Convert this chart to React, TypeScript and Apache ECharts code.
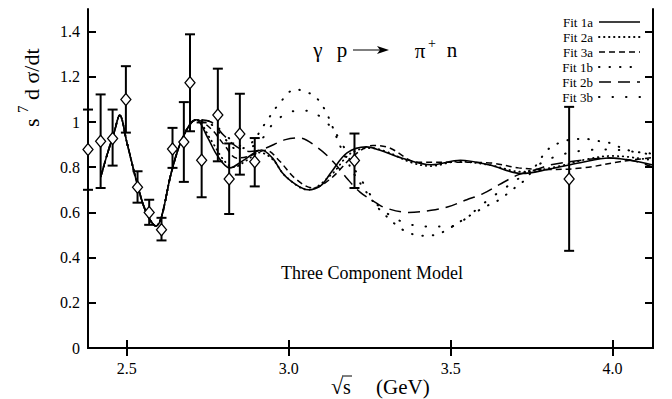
import React, { useEffect, useRef } from "react";
import * as echarts from "echarts";

// ---- data ----
const xTicks = [2.5, 3.0, 3.5, 4.0];
const yTicks = [0, 0.2, 0.4, 0.6, 0.8, 1.0, 1.2, 1.4];

const pointX = [2.38, 2.419, 2.456, 2.497, 2.533, 2.569, 2.607, 2.641, 2.676, 2.695, 2.731, 2.781, 2.816, 2.849, 2.895, 3.203, 3.866];
const pointY = [0.878, 0.915, 0.927, 1.10, 0.711, 0.600, 0.523, 0.881, 0.911, 1.174, 0.831, 1.031, 0.748, 0.947, 0.824, 0.830, 0.748];
const pointLo = [0.70, 0.708, 0.807, 0.953, 0.643, 0.545, 0.476, 0.797, 0.735, 0.959, 0.667, 0.826, 0.593, 0.767, 0.715, 0.708, 0.430];
const pointHi = [1.055, 1.122, 1.055, 1.247, 0.782, 0.656, 0.576, 0.974, 1.088, 1.388, 0.998, 1.236, 0.905, 1.125, 0.929, 0.949, 1.067];

const commonStart = [
  [2.42, 0.76], [2.44, 0.86], [2.46, 0.95], [2.478, 1.03], [2.50, 0.91], [2.535, 0.71],
  [2.56, 0.60], [2.59, 0.54], [2.607, 0.58], [2.638, 0.78], [2.674, 0.935], [2.715, 1.01],
];

const fit1a = [...commonStart,
  [2.75, 0.93], [2.78, 0.85], [2.818, 0.797], [2.86, 0.83], [2.916, 0.876], [2.95, 0.84], [2.98, 0.775],
  [3.01, 0.735], [3.06, 0.70], [3.10, 0.72], [3.13, 0.775], [3.18, 0.863], [3.24, 0.89], [3.28, 0.876],
  [3.35, 0.84], [3.44, 0.811], [3.53, 0.831], [3.62, 0.81], [3.72, 0.772], [3.80, 0.79], [3.90, 0.82],
  [3.99, 0.841], [4.06, 0.83], [4.125, 0.81]];
const fit2a = [...commonStart,
  [2.76, 0.92], [2.80, 0.83], [2.83, 0.80], [2.87, 0.83], [2.91, 0.865], [2.95, 0.835], [2.99, 0.76],
  [3.06, 0.70], [3.13, 0.765], [3.19, 0.86], [3.25, 0.885], [3.30, 0.87], [3.38, 0.82], [3.44, 0.805],
  [3.52, 0.825], [3.62, 0.81], [3.72, 0.78], [3.82, 0.80], [3.92, 0.835], [4.0, 0.85], [4.125, 0.83]];
const fit3a = [...commonStart,
  [2.76, 0.97], [2.80, 0.90], [2.84, 0.84], [2.88, 0.85], [2.93, 0.875], [2.97, 0.83], [3.02, 0.75],
  [3.075, 0.708], [3.13, 0.75], [3.20, 0.85], [3.26, 0.896], [3.31, 0.886], [3.40, 0.822], [3.51, 0.822],
  [3.62, 0.819], [3.71, 0.797], [3.80, 0.79], [3.91, 0.797], [4.03, 0.826], [4.125, 0.843]];
const fit1b = [...commonStart,
  [2.76, 0.99], [2.80, 0.93], [2.84, 0.88], [2.88, 0.90], [2.93, 1.0], [2.97, 1.08], [3.02, 1.144],
  [3.06, 1.13], [3.09, 1.10], [3.12, 1.03], [3.16, 0.89], [3.20, 0.775], [3.23, 0.71], [3.27, 0.63],
  [3.30, 0.585], [3.34, 0.535], [3.37, 0.51], [3.41, 0.497], [3.45, 0.50], [3.48, 0.516], [3.53, 0.56],
  [3.57, 0.595], [3.61, 0.627], [3.65, 0.656], [3.69, 0.70], [3.73, 0.745], [3.77, 0.82], [3.80, 0.878],
  [3.84, 0.91], [3.89, 0.925], [3.93, 0.924], [3.96, 0.915], [3.99, 0.908], [4.02, 0.89], [4.06, 0.871],
  [4.125, 0.86]];
const fit2b = [...commonStart,
  [2.76, 1.0], [2.80, 0.94], [2.84, 0.89], [2.88, 0.87], [2.92, 0.88], [2.99, 0.922], [3.03, 0.93],
  [3.09, 0.886], [3.14, 0.82], [3.18, 0.75], [3.22, 0.69], [3.27, 0.642], [3.30, 0.619], [3.37, 0.60],
  [3.44, 0.609], [3.49, 0.624], [3.55, 0.656], [3.60, 0.683], [3.65, 0.723], [3.71, 0.767], [3.77, 0.792],
  [3.81, 0.811], [3.92, 0.834], [3.99, 0.841], [4.07, 0.826], [4.125, 0.80]];
const fit3b = [...commonStart,
  [2.76, 1.0], [2.80, 0.95], [2.84, 0.90], [2.88, 0.89], [2.92, 0.93], [2.95, 0.99], [2.99, 1.035],
  [3.03, 1.05], [3.06, 1.05], [3.10, 1.02], [3.14, 0.96], [3.17, 0.89], [3.20, 0.80], [3.23, 0.73],
  [3.27, 0.64], [3.30, 0.60], [3.34, 0.565], [3.38, 0.545], [3.43, 0.538], [3.48, 0.538], [3.51, 0.540],
  [3.56, 0.59], [3.59, 0.625], [3.62, 0.66], [3.67, 0.71], [3.72, 0.76], [3.77, 0.81], [3.82, 0.845],
  [3.87, 0.865], [3.92, 0.875], [3.97, 0.878], [4.03, 0.875], [4.08, 0.865], [4.125, 0.855]];

const fitNames = ["Fit 1a", "Fit 2a", "Fit 3a", "Fit 1b", "Fit 2b", "Fit 3b"];
const fitData = [fit1a, fit2a, fit3a, fit1b, fit2b, fit3b];

// styles
const FONT = "'Liberation Serif', 'Times New Roman', serif";
const fitStyles: any[] = [
  { type: "solid", width: 1.6, cap: "butt" },
  { type: [0.5, 4.5], width: 1.8, cap: "round" },
  { type: [6, 4], width: 1.5, cap: "butt" },
  { type: [0.5, 10], width: 2, cap: "round" },
  { type: [12, 7], width: 1.5, cap: "butt" },
  { type: [0.5, 13], width: 2, cap: "round" },
];

export default function App() {
  const ref = useRef<HTMLDivElement>(null);
  useEffect(() => {
    if (!ref.current) return;
    const chart = echarts.init(ref.current, null, { renderer: "svg" });
    const xMin = 2.38, xMax = 4.125;
    const axisBase = {
      type: "value",
      axisLine: { show: true, lineStyle: { color: "#000", width: 2 } },
      splitLine: { show: false },
    };
    const errData = pointX.map((x, i) => [x, pointLo[i], pointHi[i]]);
    const ptData = pointX.map((x, i) => [x, pointY[i]]);

    const legendGraphics: any[] = [];
    fitNames.forEach((n, i) => {
      const y = 22 + i * 15;
      legendGraphics.push({
        type: "text", x: 593, y,
        style: { text: n, font: `13px ${FONT}`, lineHeight: 13, fill: "#000", align: "right", verticalAlign: "middle" },
      });
      const st = fitStyles[i];
      legendGraphics.push({
        type: "line", shape: { x1: 599, y1: y, x2: 640, y2: y },
        style: { stroke: "#000", lineWidth: st.width, lineDash: st.type === "solid" ? null : st.type, lineCap: st.cap },
      });
    });

    const option: any = {
      animation: false,
      backgroundColor: "#fff",
      grid: { left: 88, right: 19, top: 9, bottom: 51 },
      xAxis: [
        {
          ...axisBase, min: xMin, max: xMax, position: "bottom",
          axisTick: { show: true, inside: true, length: 8, customValues: xTicks, lineStyle: { color: "#000", width: 2 } },
          axisLabel: { show: true, customValues: xTicks, formatter: (v: number) => v.toFixed(1), color: "#000", fontFamily: FONT, fontSize: 16, margin: 12 },
        },
        {
          ...axisBase, min: xMin, max: xMax, position: "top",
          axisTick: { show: true, inside: true, length: 8, customValues: xTicks, lineStyle: { color: "#000", width: 2 } },
          axisLabel: { show: false },
        },
      ],
      yAxis: [
        {
          ...axisBase, min: 0, max: 1.5, position: "left",
          axisTick: { show: true, inside: true, length: 8, customValues: yTicks, lineStyle: { color: "#000", width: 2 } },
          axisLabel: { show: true, customValues: yTicks, formatter: (v: number) => String(Math.round(v * 10) / 10), color: "#000", fontFamily: FONT, fontSize: 16, margin: 8 },
        },
        {
          ...axisBase, min: 0, max: 1.5, position: "right",
          axisTick: { show: true, inside: true, length: 8, customValues: yTicks, lineStyle: { color: "#000", width: 2 } },
          axisLabel: { show: false },
        },
      ],
      series: [
        ...fitData.map((d, i) => ({
          type: "line", name: fitNames[i], data: d, showSymbol: false, symbol: "none",
          smooth: 0.35, clip: true, z: 2,
          lineStyle: { color: "#000", width: fitStyles[i].width, type: fitStyles[i].type, cap: fitStyles[i].cap },
        })),
        {
          type: "custom", name: "errors", data: errData, z: 3, clip: false,
          encode: { x: 0, y: [1, 2] },
          renderItem: (params: any, api: any) => {
            const x = api.value(0), lo = api.value(1), hi = api.value(2);
            const a = api.coord([x, lo]);
            const b = api.coord([x, hi]);
            const hw = 5;
            const st = { stroke: "#000", lineWidth: 2 };
            return {
              type: "group",
              children: [
                { type: "line", shape: { x1: a[0], y1: a[1], x2: b[0], y2: b[1] }, style: st },
                { type: "line", shape: { x1: a[0] - hw, y1: a[1], x2: a[0] + hw, y2: a[1] }, style: st },
                { type: "line", shape: { x1: b[0] - hw, y1: b[1], x2: b[0] + hw, y2: b[1] }, style: st },
              ],
            };
          },
        },
        {
          type: "scatter", name: "data", data: ptData, symbol: "diamond", symbolSize: [10, 12], z: 4, clip: false,
          itemStyle: { color: "#fff", borderColor: "#000", borderWidth: 1.3, opacity: 1 },
        },
      ],
      graphic: [
        // reaction title
        { type: "text", x: 318, y: 50, style: { text: "γ", font: `21px ${FONT}`, fill: "#000", align: "center", verticalAlign: "middle" } },
        { type: "text", x: 342, y: 50, style: { text: "p", font: `21px ${FONT}`, fill: "#000", align: "center", verticalAlign: "middle" } },
        { type: "line", shape: { x1: 353, y1: 50, x2: 386, y2: 50 }, style: { stroke: "#000", lineWidth: 1.2 } },
        { type: "polygon", shape: { points: [[389, 50], [377, 46], [380, 50], [377, 54]] }, style: { fill: "#000" } },
        { type: "text", x: 420, y: 51, style: { text: "π", font: `21px ${FONT}`, fill: "#000", align: "center", verticalAlign: "middle" } },
        { type: "text", x: 432, y: 43, style: { text: "+", font: `14px ${FONT}`, fill: "#000", align: "center", verticalAlign: "middle" } },
        { type: "text", x: 452, y: 50, style: { text: "n", font: `21px ${FONT}`, fill: "#000", align: "center", verticalAlign: "middle" } },
        // model label
        { type: "text", x: 372, y: 273, style: { text: "Three Component Model", font: `18px ${FONT}`, fill: "#000", align: "center", verticalAlign: "middle" } },
        // x axis title
        { type: "text", x: 337, y: 386, style: { text: "√", font: `22px ${FONT}`, lineHeight: 20, fill: "#000", align: "center", verticalAlign: "middle" } },
        { type: "line", shape: { x1: 342, y1: 376, x2: 352, y2: 376 }, style: { stroke: "#000", lineWidth: 1 } },
        { type: "text", x: 347, y: 387, style: { text: "s", font: `20px ${FONT}`, lineHeight: 18, fill: "#000", align: "center", verticalAlign: "middle" } },
        { type: "text", x: 376, y: 387, style: { text: "(GeV)", font: `21px ${FONT}`, lineHeight: 18, fill: "#000", align: "left", verticalAlign: "middle" } },
        // y axis title (rotated)
        {
          type: "group", x: 31, y: 85, rotation: Math.PI / 2,
          children: [
            { type: "text", x: -42, y: 0, style: { text: "s", font: `22px ${FONT}`, fill: "#000", align: "left", verticalAlign: "middle" } },
            { type: "text", x: -28, y: -8, style: { text: "7", font: `15px ${FONT}`, fill: "#000", align: "left", verticalAlign: "middle" } },
            { type: "text", x: -15, y: 0, style: { text: "d σ/dt", font: `22px ${FONT}`, fill: "#000", align: "left", verticalAlign: "middle" } },
          ],
        },
        ...legendGraphics,
      ],
    };
    chart.setOption(option);
    return () => chart.dispose();
  }, []);
  return <div ref={ref} style={{ width: 672, height: 399, position: "absolute", left: 0, top: 0 }} />;
}
